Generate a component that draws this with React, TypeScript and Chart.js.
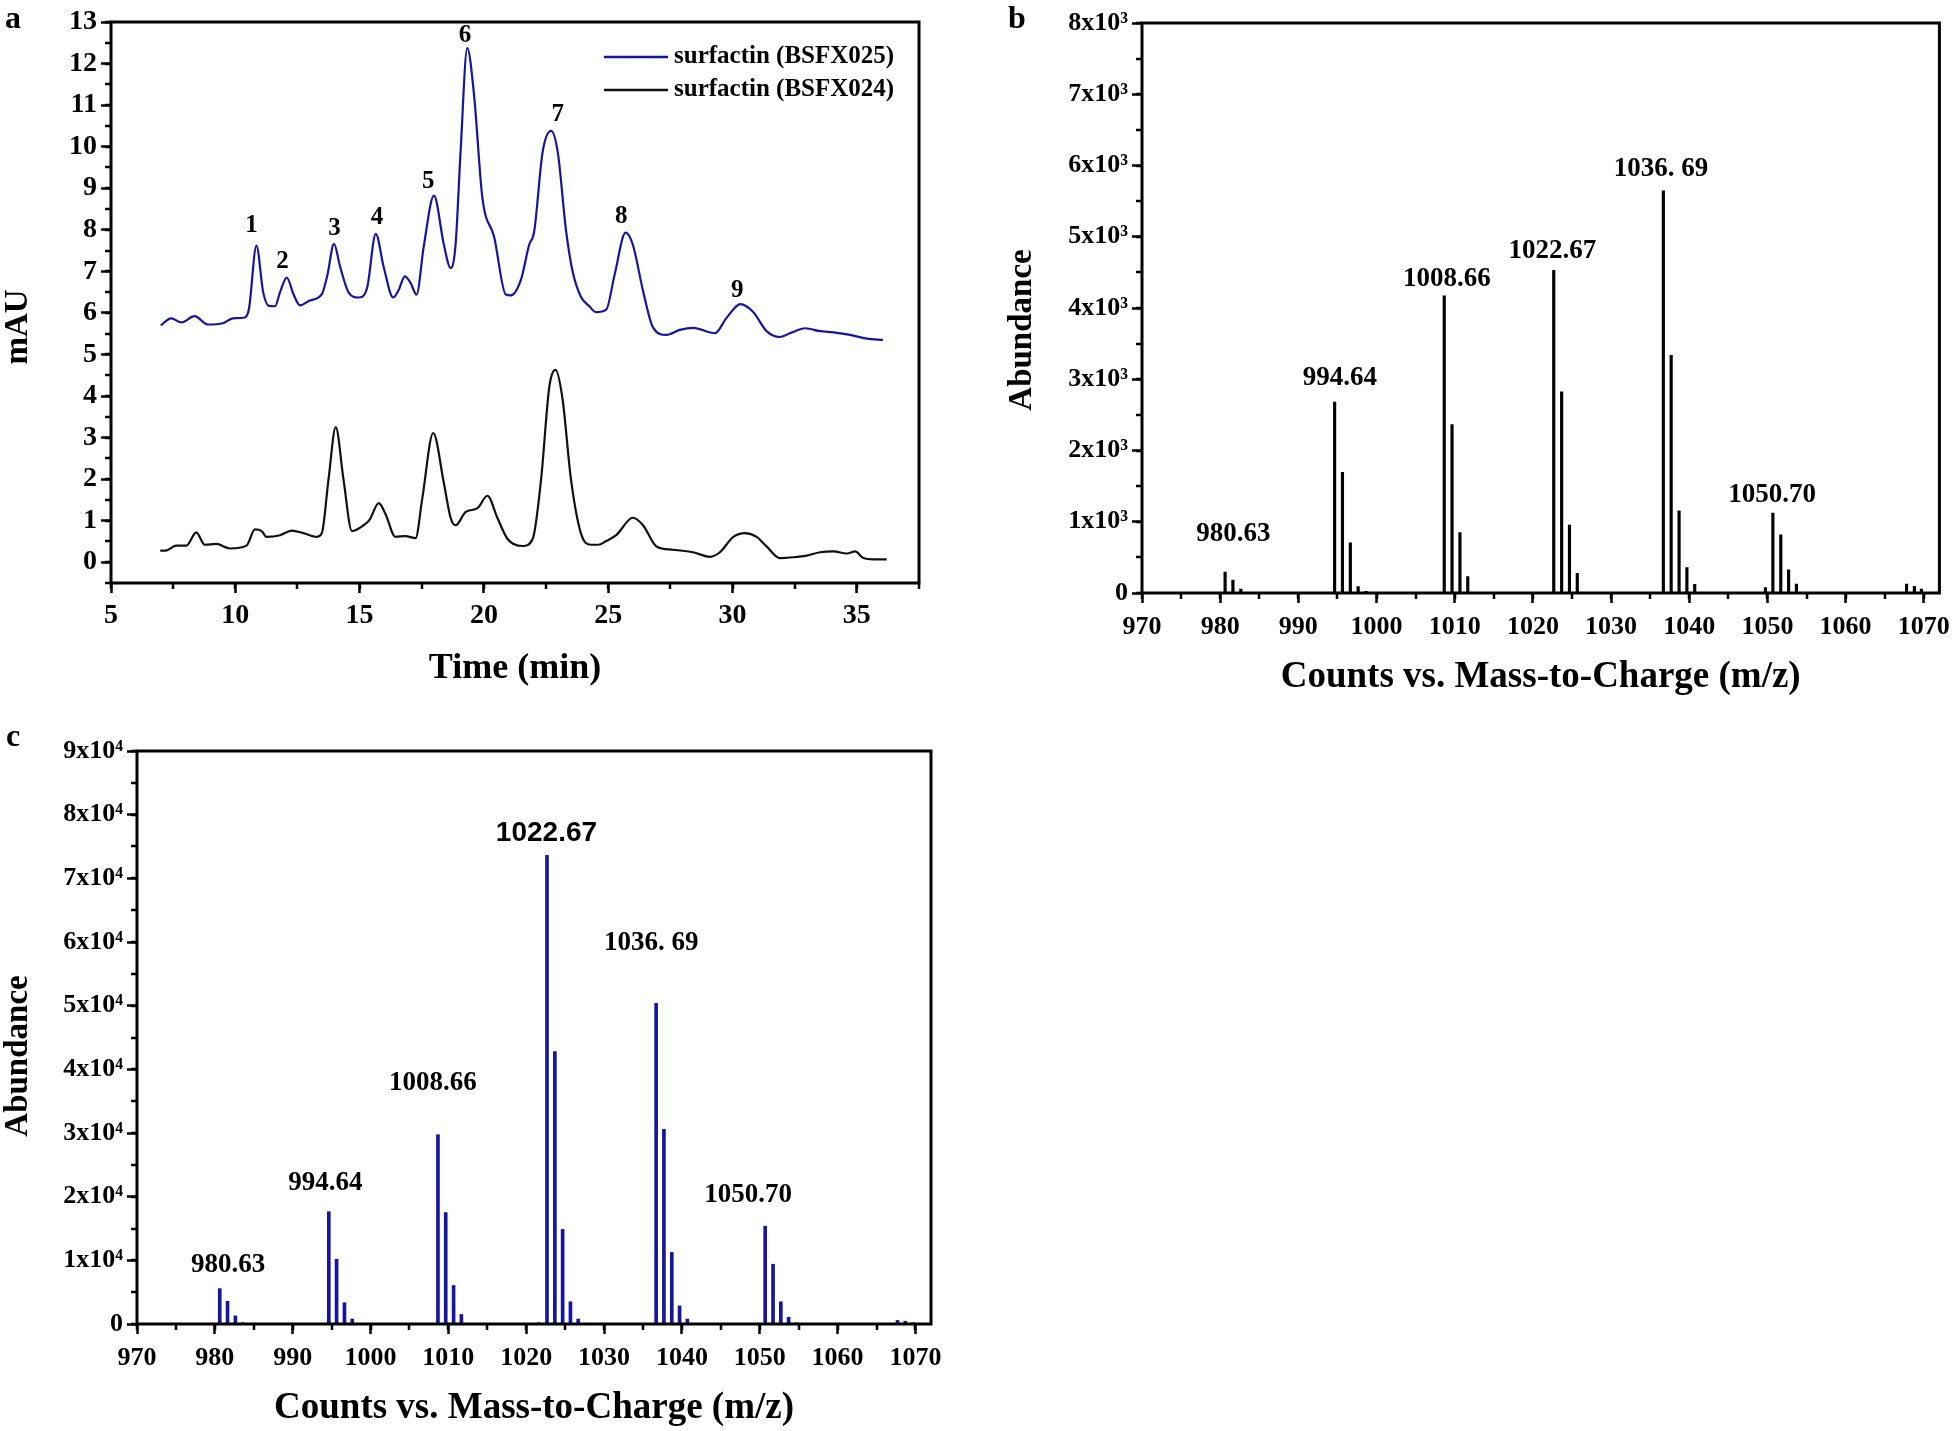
import React, { useEffect, useRef } from "react";
import { Chart, registerables } from "chart.js";

Chart.register(...registerables);

const FONT = "'Liberation Serif', 'Times New Roman', 'DejaVu Serif', serif";
const SANS = "'Liberation Sans', Arial, 'DejaVu Sans', sans-serif";

// ---------- Panel a : HPLC chromatograms ----------
const timeBSFX025 = [7.0, 7.42, 7.83, 8.36, 8.9, 9.5, 9.9, 10.38, 10.55, 10.85, 11.12, 11.35, 11.6, 11.8, 12.07, 12.34, 12.6, 13.0, 13.48, 13.7, 13.97, 14.22, 14.56, 14.96, 15.3, 15.65, 15.97, 16.35, 16.57, 16.82, 17.05, 17.29, 17.58, 17.99, 18.39, 18.66, 18.86, 19.06, 19.33, 19.6, 19.94, 20.41, 20.88, 21.08, 21.49, 21.82, 22.02, 22.36, 22.7, 22.97, 23.3, 23.57, 23.9, 24.24, 24.5, 24.92, 25.25, 25.7, 25.99, 26.4, 26.8, 27.34, 27.88, 28.41, 29.29, 29.76, 30.32, 30.83, 31.37, 31.9, 32.38, 32.92, 33.52, 34.06, 34.73, 35.4, 36.05];
const mAU_BSFX025 = [5.7, 5.87, 5.77, 5.92, 5.72, 5.75, 5.87, 5.89, 6.1, 7.62, 6.5, 6.17, 6.16, 6.5, 6.85, 6.45, 6.18, 6.3, 6.45, 6.9, 7.66, 7.1, 6.49, 6.37, 6.6, 7.9, 7.1, 6.37, 6.55, 6.88, 6.72, 6.44, 7.6, 8.82, 7.64, 7.08, 7.64, 9.87, 12.37, 11.26, 8.76, 7.83, 6.44, 6.42, 6.8, 7.64, 7.95, 9.87, 10.38, 9.87, 8.0, 6.99, 6.39, 6.16, 6.02, 6.08, 6.9, 7.93, 7.64, 6.53, 5.65, 5.47, 5.59, 5.64, 5.51, 5.88, 6.21, 6.02, 5.56, 5.42, 5.53, 5.63, 5.56, 5.53, 5.47, 5.38, 5.35];

const timeBSFX024 = [6.98, 7.2, 7.62, 8.03, 8.43, 8.77, 9.24, 9.78, 10.45, 10.79, 11.06, 11.26, 11.8, 12.27, 12.74, 13.28, 13.48, 13.75, 14.04, 14.35, 14.69, 15.16, 15.4, 15.77, 16.04, 16.44, 16.84, 17.25, 17.52, 17.96, 18.39, 18.66, 18.86, 19.27, 19.74, 20.14, 20.54, 20.95, 21.55, 21.96, 22.3, 22.63, 22.88, 23.16, 23.5, 23.9, 24.3, 24.6, 24.92, 25.32, 25.99, 26.4, 26.94, 27.6, 28.41, 29.09, 29.49, 30.03, 30.5, 30.97, 31.37, 31.9, 32.45, 32.98, 33.52, 34.06, 34.6, 34.93, 35.26, 35.67, 36.2];
const mAU_BSFX024 = [0.28, 0.28, 0.4, 0.4, 0.72, 0.42, 0.44, 0.33, 0.4, 0.79, 0.75, 0.61, 0.65, 0.76, 0.7, 0.61, 0.7, 2.0, 3.25, 2.0, 0.75, 0.89, 1.02, 1.42, 1.16, 0.61, 0.63, 0.58, 1.53, 3.11, 1.9, 1.07, 0.89, 1.21, 1.3, 1.6, 1.07, 0.56, 0.39, 0.56, 2.0, 4.22, 4.63, 3.94, 2.0, 0.7, 0.42, 0.42, 0.51, 0.65, 1.07, 0.89, 0.38, 0.3, 0.24, 0.13, 0.24, 0.61, 0.7, 0.61, 0.38, 0.1, 0.12, 0.16, 0.24, 0.26, 0.21, 0.26, 0.1, 0.07, 0.07];

const peakNumbers = ["1", "2", "3", "4", "5", "6", "7", "8", "9"];
const peakLabelTime = [10.65, 11.9, 13.99, 15.7, 17.76, 19.24, 22.97, 25.52, 30.19];
const peakLabelLevel = [8.11, 7.23, 8.03, 8.29, 9.16, 12.67, 10.77, 8.31, 6.53];

const seriesNames = ["surfactin (BSFX025)", "surfactin (BSFX024)"];

// ---------- Panel b : mass spectrum (BSFX024) ----------
const mzB = [980.63, 981.63, 982.64, 994.64, 995.64, 996.65, 997.65, 998.65, 1008.66, 1009.66, 1010.67, 1011.67, 1022.67, 1023.68, 1024.68, 1025.68, 1036.69, 1037.69, 1038.7, 1039.7, 1040.7, 1049.75, 1050.7, 1051.71, 1052.71, 1053.71, 1067.8, 1068.8, 1069.7];
const abundanceB = [295, 180, 55, 2680, 1695, 705, 90, 25, 4170, 2365, 847, 232, 4530, 2823, 954, 276, 5646, 3337, 1154, 358, 120, 75, 1123, 815, 326, 125, 125, 95, 55];

// ---------- Panel c : mass spectrum (BSFX025) ----------
const mzC = [980.63, 981.63, 982.64, 983.64, 994.64, 995.64, 996.65, 997.65, 1008.66, 1009.66, 1010.67, 1011.67, 1021.6, 1022.67, 1023.68, 1024.68, 1025.68, 1026.68, 1036.69, 1037.69, 1038.7, 1039.7, 1040.7, 1050.7, 1051.71, 1052.71, 1053.71, 1054.7, 1067.7, 1068.7, 1069.7];
const abundanceC = [5550, 3560, 1280, 200, 17640, 10170, 3340, 780, 29730, 17500, 6050, 1490, 200, 73600, 42800, 14860, 3490, 780, 50360, 30580, 11240, 2840, 780, 15360, 9390, 3490, 1070, 200, 570, 430, 200];

const ionLabels = ["980.63", "994.64", "1008.66", "1022.67", "1036. 69", "1050.70"];
const ionLabelMzB = [981.7, 995.3, 1009.0, 1022.5, 1036.4, 1050.6];
const ionLabelAbB = [828, 3024, 4404, 4799, 5954, 1374];
const ionLabelMzC = [981.7, 994.2, 1008.0, 1022.6, 1036.05, 1048.5];
const ionLabelAbC = [9250, 22120, 37910, 77030, 59810, 20270];

const BLUE = "#15159f";

type TextItem = { text: string; x: number; y: number; font: string; rotate?: boolean; align?: CanvasTextAlign };
type AnnSet = { labels: string[]; xs: number[]; ys: number[]; fonts: string[] };

function decorPlugin(cfg: {
  xMinor: number;
  yMinor: number;
  minorLen: number;
  texts: TextItem[];
  ann?: AnnSet;
  legend?: { lineX1: number; lineX2: number; textX: number; ys: number[]; font: string };
}) {
  return {
    id: "decor",
    afterDraw(chart: any) {
      const { ctx, chartArea: ca, scales } = chart;
      const xs = scales.x;
      const ys = scales.y;
      ctx.save();
      ctx.strokeStyle = "#000";
      // minor ticks
      ctx.lineWidth = 2.5;
      ctx.beginPath();
      for (let v = xs.min; v <= xs.max + 1e-9; v += cfg.xMinor) {
        const p = Math.round(xs.getPixelForValue(v));
        ctx.moveTo(p, ca.bottom);
        ctx.lineTo(p, ca.bottom + cfg.minorLen);
      }
      for (let v = ys.min; v <= ys.max + 1e-9; v += cfg.yMinor) {
        const p = Math.round(ys.getPixelForValue(v));
        ctx.moveTo(ca.left, p);
        ctx.lineTo(ca.left - cfg.minorLen, p);
      }
      ctx.stroke();
      // frame
      ctx.lineWidth = 3;
      ctx.strokeRect(ca.left, ca.top, ca.right - ca.left, ca.bottom - ca.top);
      // texts
      ctx.fillStyle = "#000";
      ctx.textBaseline = "middle";
      for (const t of cfg.texts) {
        ctx.font = t.font;
        ctx.textAlign = t.align || "center";
        if (t.rotate) {
          ctx.save();
          ctx.translate(t.x, t.y);
          ctx.rotate(-Math.PI / 2);
          ctx.fillText(t.text, 0, 0);
          ctx.restore();
        } else {
          ctx.fillText(t.text, t.x, t.y);
        }
      }
      // annotations in data coordinates
      if (cfg.ann) {
        ctx.textAlign = "center";
        cfg.ann.labels.forEach((lab, i) => {
          ctx.font = cfg.ann!.fonts[i];
          ctx.fillText(lab, xs.getPixelForValue(cfg.ann!.xs[i]), ys.getPixelForValue(cfg.ann!.ys[i]));
        });
      }
      // legend
      if (cfg.legend) {
        const lg = cfg.legend;
        chart.data.datasets.forEach((ds: any, i: number) => {
          ctx.strokeStyle = ds.borderColor;
          ctx.lineWidth = 2.5;
          ctx.beginPath();
          ctx.moveTo(lg.lineX1, lg.ys[i]);
          ctx.lineTo(lg.lineX2, lg.ys[i]);
          ctx.stroke();
          ctx.font = lg.font;
          ctx.textAlign = "left";
          ctx.fillStyle = "#000";
          ctx.fillText(ds.label, lg.textX, lg.ys[i]);
        });
      }
      ctx.restore();
    },
  };
}

const isMultiple = (v: number, step: number) => Math.abs(v / step - Math.round(v / step)) < 1e-6;

function xAxis(min: number, max: number, step: number, title: string, height: number, titlePad: number, tickPad: number, tickSize: number, titleSize: number) {
  return {
    type: "linear",
    min,
    max,
    offset: false,
    border: { display: false },
    grid: { display: true, drawOnChartArea: false, drawTicks: true, tickLength: 10, tickWidth: 2.5, tickColor: "#000", color: "#000", offset: false },
    ticks: {
      stepSize: step,
      autoSkip: false,
      maxRotation: 0,
      includeBounds: false,
      padding: tickPad,
      color: "#000",
      font: { family: FONT, size: tickSize, weight: "bold" },
      callback: (v: any) => (isMultiple(v, step) ? String(Math.round(v)) : ""),
    },
    title: { display: true, text: title, color: "#000", font: { family: FONT, size: titleSize, weight: "bold" }, padding: { top: 0, bottom: titlePad } },
    afterFit: (s: any) => {
      s.height = height;
    },
  };
}

function yAxis(min: number, max: number, step: number, width: number, tickSize: number, fmt: (v: number) => string) {
  return {
    type: "linear",
    min,
    max,
    border: { display: false },
    grid: { display: true, drawOnChartArea: false, drawTicks: true, tickLength: 10, tickWidth: 2.5, tickColor: "#000", color: "#000" },
    ticks: {
      stepSize: step,
      autoSkip: false,
      includeBounds: false,
      padding: 4,
      color: "#000",
      font: { family: FONT, size: tickSize, weight: "bold" },
      callback: (v: any) => fmt(v),
    },
    afterFit: (s: any) => {
      s.width = width;
    },
  };
}

const supExp = (e: number) => (e === 3 ? "\u00B3" : "\u2074");

export default function App() {
  const refA = useRef<HTMLCanvasElement>(null);
  const refB = useRef<HTMLCanvasElement>(null);
  const refC = useRef<HTMLCanvasElement>(null);

  useEffect(() => {
    const charts: Chart[] = [];

    // Panel a
    charts.push(
      new Chart(refA.current!, {
        type: "line",
        data: {
          datasets: [
            {
              label: seriesNames[0],
              data: timeBSFX025.map((t, i) => ({ x: t, y: mAU_BSFX025[i] })),
              borderColor: BLUE,
              borderWidth: 2.2,
              pointRadius: 0,
              cubicInterpolationMode: "monotone",
            },
            {
              label: seriesNames[1],
              data: timeBSFX024.map((t, i) => ({ x: t, y: mAU_BSFX024[i] })),
              borderColor: "#111111",
              borderWidth: 2.2,
              pointRadius: 0,
              cubicInterpolationMode: "monotone",
            },
          ],
        },
        options: {
          responsive: false,
          animation: false,
          devicePixelRatio: 1,
          layout: { padding: { left: 0, top: 22, right: 41, bottom: 0 } },
          plugins: { legend: { display: false }, tooltip: { enabled: false } },
          scales: {
            x: xAxis(5, 37.5, 5, "Time (min)", 137, 30, 6, 28, 36) as any,
            y: yAxis(-0.5, 13, 1, 111, 28, (v) => (isMultiple(v, 1) ? String(Math.round(v)) : "")) as any,
          },
        },
        plugins: [
          decorPlugin({
            xMinor: 2.5,
            yMinor: 0.5,
            minorLen: 6,
            texts: [
              { text: "a", x: 13, y: 20, font: `bold 32px ${FONT}` },
              { text: "mAU", x: 18, y: 327, font: `bold 33px ${FONT}`, rotate: true },
            ],
            ann: { labels: peakNumbers, xs: peakLabelTime, ys: peakLabelLevel, fonts: peakNumbers.map(() => `bold 25px ${FONT}`) },
            legend: { lineX1: 604, lineX2: 668, textX: 674, ys: [57, 90], font: `bold 25px ${FONT}` },
          }) as any,
        ],
      } as any)
    );

    // Panel b
    charts.push(
      new Chart(refB.current!, {
        type: "bar",
        data: {
          datasets: [
            {
              label: "BSFX024",
              data: mzB.map((m, i) => ({ x: m, y: abundanceB[i] })),
              backgroundColor: "#000",
              barThickness: 2.5,
            },
          ],
        },
        options: {
          responsive: false,
          animation: false,
          devicePixelRatio: 1,
          layout: { padding: { left: 0, top: 23, right: 12, bottom: 0 } },
          plugins: { legend: { display: false }, tooltip: { enabled: false } },
          scales: {
            x: xAxis(970, 1072, 10, "Counts vs. Mass-to-Charge (m/z)", 127, 20, 9, 26, 37) as any,
            y: yAxis(0, 8000, 1000, 162, 26, (v) => (Math.abs(v) < 1e-9 ? "0" : `${Math.round(v / 1000)}x10${supExp(3)}`)) as any,
          },
        },
        plugins: [
          decorPlugin({
            xMinor: 5,
            yMinor: 500,
            minorLen: 6,
            texts: [
              { text: "b", x: 37, y: 20, font: `bold 32px ${FONT}` },
              { text: "Abundance", x: 42, y: 330, font: `bold 33px ${FONT}`, rotate: true },
            ],
            ann: { labels: ionLabels, xs: ionLabelMzB, ys: ionLabelAbB, fonts: ionLabels.map(() => `bold 27px ${FONT}`) },
          }) as any,
        ],
      } as any)
    );

    // Panel c
    charts.push(
      new Chart(refC.current!, {
        type: "bar",
        data: {
          datasets: [
            {
              label: "BSFX025",
              data: mzC.map((m, i) => ({ x: m, y: abundanceC[i] })),
              backgroundColor: BLUE,
              barThickness: 3,
            },
          ],
        },
        options: {
          responsive: false,
          animation: false,
          devicePixelRatio: 1,
          layout: { padding: { left: 0, top: 31, right: 29, bottom: 0 } },
          plugins: { legend: { display: false }, tooltip: { enabled: false } },
          scales: {
            x: xAxis(970, 1072, 10, "Counts vs. Mass-to-Charge (m/z)", 107, 0, 9, 26, 37) as any,
            y: yAxis(0, 90000, 10000, 137, 26, (v) => (Math.abs(v) < 1e-9 ? "0" : `${Math.round(v / 10000)}x10${supExp(4)}`)) as any,
          },
        },
        plugins: [
          decorPlugin({
            xMinor: 5,
            yMinor: 5000,
            minorLen: 6,
            texts: [
              { text: "c", x: 13, y: 18, font: `bold 32px ${FONT}` },
              { text: "Abundance", x: 18, y: 336, font: `bold 33px ${FONT}`, rotate: true },
            ],
            ann: {
              labels: ionLabels,
              xs: ionLabelMzC,
              ys: ionLabelAbC,
              fonts: ionLabels.map((l) => (l === "1022.67" ? `bold 28px ${SANS}` : `bold 27px ${FONT}`)),
            },
          }) as any,
        ],
      } as any)
    );

    return () => charts.forEach((c) => c.destroy());
  }, []);

  return (
    <div style={{ position: "absolute", left: 0, top: 0, width: 1959, height: 1431, background: "#fff", overflow: "hidden" }}>
      <canvas ref={refA} width={960} height={720} style={{ position: "absolute", left: 0, top: 0, width: 960, height: 720 }} />
      <canvas ref={refB} width={979} height={720} style={{ position: "absolute", left: 980, top: 0, width: 979, height: 720 }} />
      <canvas ref={refC} width={960} height={711} style={{ position: "absolute", left: 0, top: 720, width: 960, height: 711 }} />
    </div>
  );
}
